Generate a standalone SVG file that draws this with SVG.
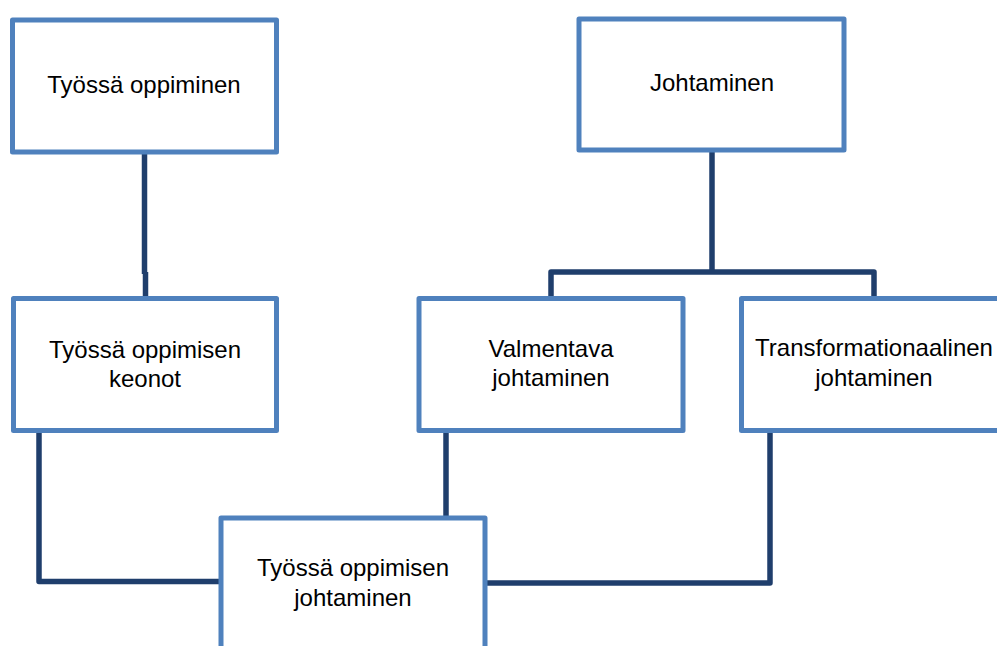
<svg xmlns="http://www.w3.org/2000/svg" width="997" height="646" viewBox="0 0 997 646">
<style>
.box{fill:#ffffff;stroke:#4F81BD;stroke-width:5;stroke-linejoin:round}
.lbl{font-family:"Liberation Sans",Arial,sans-serif;font-size:24px;fill:#000000;text-anchor:middle}
.con{fill:none;stroke:#1F3E6C;stroke-width:5.5;stroke-linejoin:round;stroke-linecap:butt}
</style>
<rect width="997" height="646" fill="#ffffff"/>
<g id="connectors">
<path class="con" d="M144.5 152 V274"/>
<path class="con" d="M145.5 272 V298"/>
<path class="con" d="M712 150 V272"/>
<path class="con" d="M551 298 V272 H874 V298"/>
<path class="con" d="M39 431 V581.5 H221"/>
<path class="con" d="M446 431 V518"/>
<path class="con" d="M770 431 V583 H485"/>
</g>
<g id="node-tyossa-oppiminen">
<rect class="box" x="12.5" y="20" width="264" height="132"/>
<text class="lbl" x="144" y="93">Työssä oppiminen</text>
</g>
<g id="node-johtaminen">
<rect class="box" x="579" y="19" width="265" height="131"/>
<text class="lbl" x="712" y="91">Johtaminen</text>
</g>
<g id="node-keinot">
<rect class="box" x="13.5" y="298.5" width="263" height="132"/>
<text class="lbl" x="145" y="358">Työssä oppimisen</text>
<text class="lbl" x="145" y="387">keonot</text>
</g>
<g id="node-valmentava">
<rect class="box" x="419" y="298.5" width="264" height="132"/>
<text class="lbl" x="551" y="357">Valmentava</text>
<text class="lbl" x="551" y="386">johtaminen</text>
</g>
<g id="node-transformationaalinen">
<rect class="box" x="741.5" y="298.5" width="266" height="132"/>
<text class="lbl" x="874" y="356">Transformationaalinen</text>
<text class="lbl" x="874" y="386">johtaminen</text>
</g>
<g id="node-tyossa-oppimisen-johtaminen">
<rect class="box" x="221" y="518" width="264" height="140"/>
<text class="lbl" x="353" y="576">Työssä oppimisen</text>
<text class="lbl" x="353" y="606">johtaminen</text>
</g>
</svg>
